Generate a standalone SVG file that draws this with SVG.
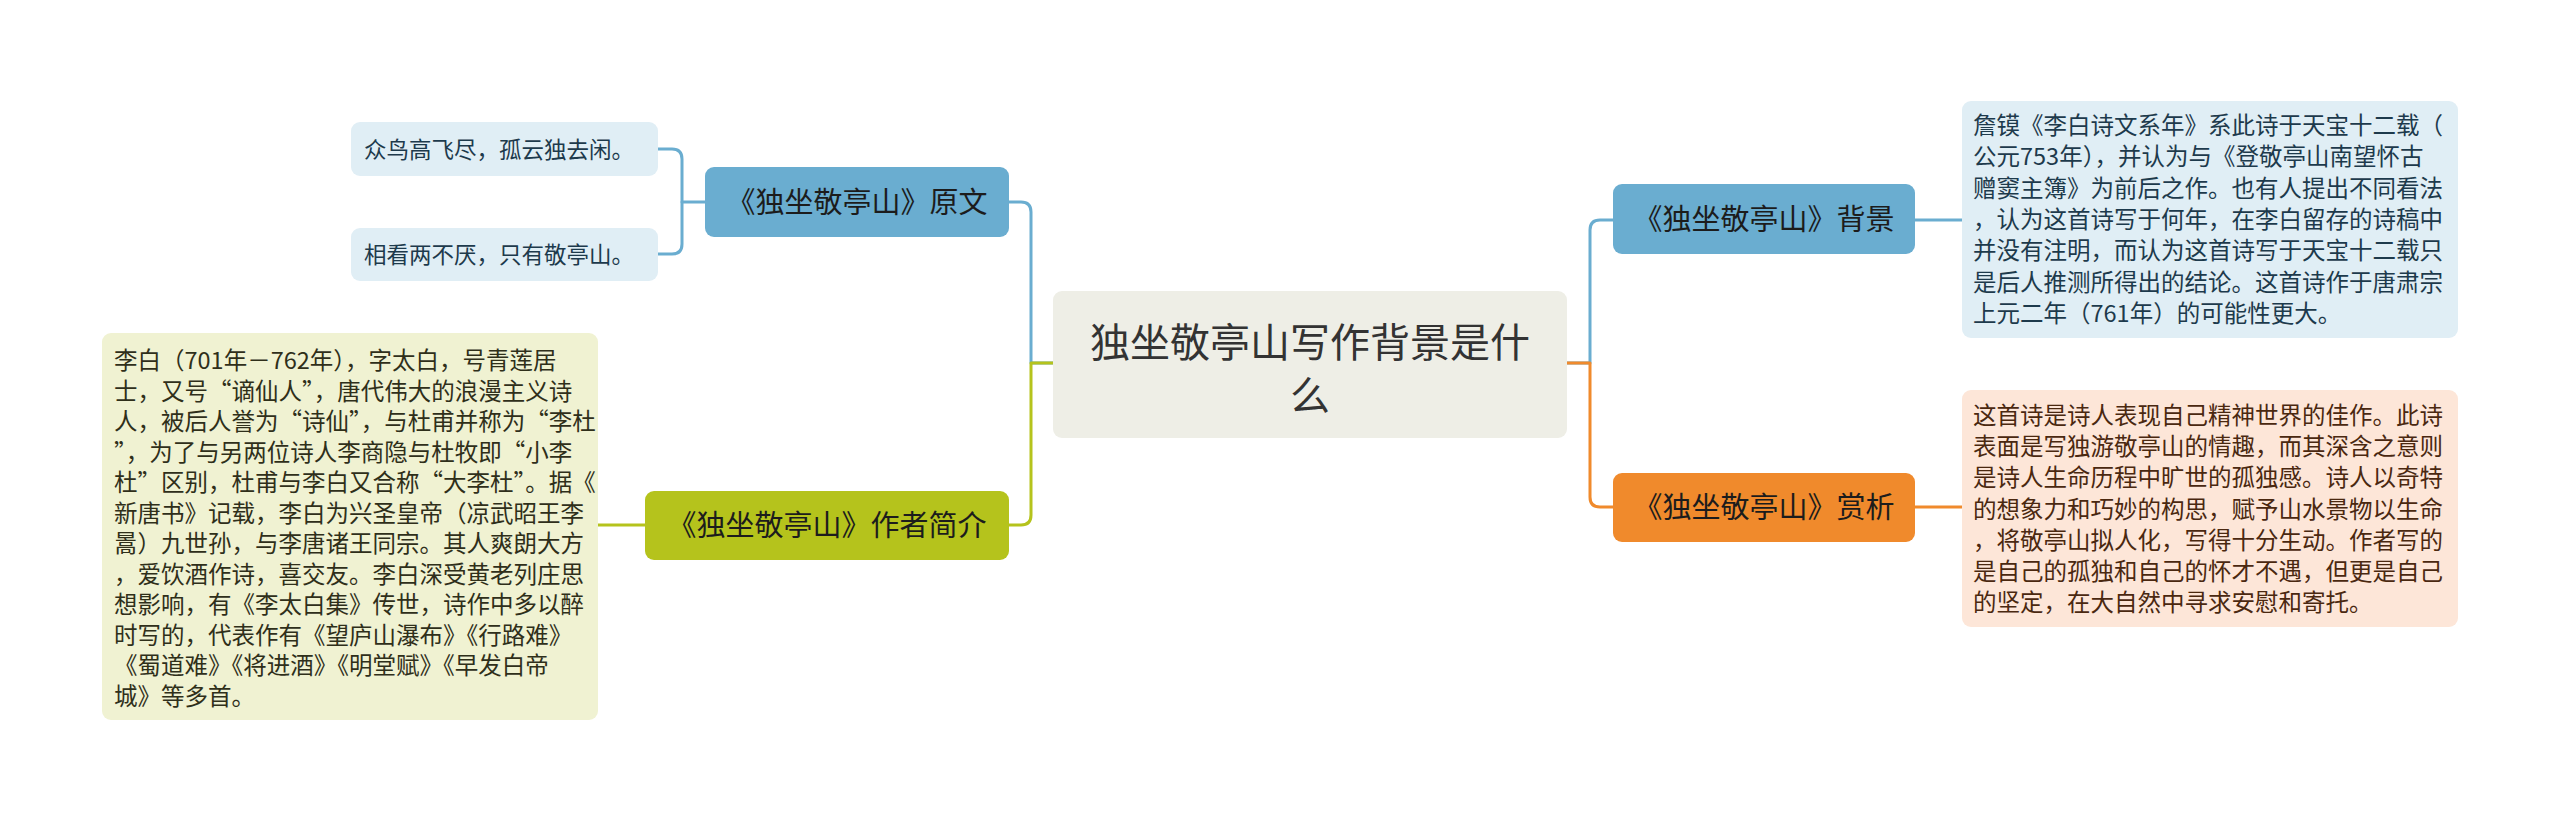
<svg xmlns="http://www.w3.org/2000/svg" width="2560" height="823" viewBox="0 0 2560 823">
<style>
text{font-family:"Noto Sans CJK SC","Noto Sans",sans-serif;}
.c{fill:none;stroke-width:3;stroke-linecap:round;stroke-linejoin:round;}
.cb{stroke:#6aadd0;}
.cg{stroke:#b5c31c;}
.co{stroke:#f08a2c;}
.t-node{font-size:29px;fill:#1c1c1c;text-anchor:middle;}
.t-center{font-size:40px;fill:#333333;text-anchor:middle;}
.t-body{font-size:23.5px;}
.t-leaf{font-size:22.5px;fill:#1d3a4c;}
</style>
<rect width="2560" height="823" fill="#ffffff"/>
<g id="connectors">
<path class="c cb" d="M1053,363 H1031 V212 Q1031,202 1021,202 H1009"/>
<path class="c cg" d="M1053,363 H1031 V515 Q1031,525 1021,525 H1009"/>
<path class="c cb" d="M1567,363 H1590 V230 Q1590,220 1600,220 H1613"/>
<path class="c co" d="M1567,363 H1590 V497 Q1590,507 1600,507 H1613"/>
<path class="c cb" d="M705,202 H682"/>
<path class="c cb" d="M658,149 H672 Q682,149 682,159 V244 Q682,254 672,254 H658"/>
<path class="c cg" d="M645,525 H598"/>
<path class="c cb" d="M1915,220 H1962"/>
<path class="c co" d="M1915,507 H1962"/>
</g>
<g id="center">
<rect x="1053" y="291" width="514" height="147" rx="9" fill="#eeeee6"/>
<text class="t-center" x="1310" y="357">独坐敬亭山写作背景是什</text>
<text class="t-center" x="1310" y="410">么</text>
</g>
<g id="yuanwen">
<rect x="705" y="167" width="304" height="70" rx="9" fill="#6aadd0"/>
<text class="t-node" x="857" y="213">《独坐敬亭山》原文</text>
</g>
<g id="leaf1">
<rect x="351" y="122" width="307" height="54" rx="9" fill="#e0eef5"/>
<text class="t-leaf" x="364" y="158">众鸟高飞尽，孤云独去闲。</text>
</g>
<g id="leaf2">
<rect x="351" y="228" width="307" height="53" rx="9" fill="#e0eef5"/>
<text class="t-leaf" x="364" y="263">相看两不厌，只有敬亭山。</text>
</g>
<g id="zuozhe">
<rect x="645" y="491" width="364" height="69" rx="9" fill="#b5c31c"/>
<text class="t-node" x="827" y="536">《独坐敬亭山》作者简介</text>
</g>
<g id="author-text">
<rect x="102" y="333" width="496" height="387" rx="9" fill="#f0f2d2"/>
<text class="t-body" fill="#2f2f1a">
<tspan x="114" y="369">李白（701年－762年），字太白，号青莲居</tspan>
<tspan x="114" y="399.5">士，又号“谪仙人”，唐代伟大的浪漫主义诗</tspan>
<tspan x="114" y="430">人，被后人誉为“诗仙”，与杜甫并称为“李杜</tspan>
<tspan x="114" y="460.5">”，为了与另两位诗人李商隐与杜牧即“小李</tspan>
<tspan x="114" y="491">杜”区别，杜甫与李白又合称“大李杜”。据《</tspan>
<tspan x="114" y="521.5">新唐书》记载，李白为兴圣皇帝（凉武昭王李</tspan>
<tspan x="114" y="552">暠）九世孙，与李唐诸王同宗。其人爽朗大方</tspan>
<tspan x="114" y="582.5">，爱饮酒作诗，喜交友。李白深受黄老列庄思</tspan>
<tspan x="114" y="613">想影响，有《李太白集》传世，诗作中多以醉</tspan>
<tspan x="114" y="643.5">时写的，代表作有《望庐山瀑布》《行路难》</tspan>
<tspan x="114" y="674">《蜀道难》《将进酒》《明堂赋》《早发白帝</tspan>
<tspan x="114" y="704.5">城》等多首。</tspan>
</text>
</g>
<g id="beijing">
<rect x="1613" y="184" width="302" height="70" rx="9" fill="#6aadd0"/>
<text class="t-node" x="1764" y="230">《独坐敬亭山》背景</text>
</g>
<g id="beijing-text">
<rect x="1962" y="101" width="496" height="237" rx="9" fill="#e0eef5"/>
<text class="t-body" fill="#1d3a4c">
<tspan x="1973" y="134">詹镆《李白诗文系年》系此诗于天宝十二载（</tspan>
<tspan x="1973" y="165.3">公元753年），并认为与《登敬亭山南望怀古</tspan>
<tspan x="1973" y="196.6">赠窦主簿》为前后之作。也有人提出不同看法</tspan>
<tspan x="1973" y="227.9">，认为这首诗写于何年，在李白留存的诗稿中</tspan>
<tspan x="1973" y="259.2">并没有注明，而认为这首诗写于天宝十二载只</tspan>
<tspan x="1973" y="290.5">是后人推测所得出的结论。这首诗作于唐肃宗</tspan>
<tspan x="1973" y="321.8">上元二年（761年）的可能性更大。</tspan>
</text>
</g>
<g id="shangxi">
<rect x="1613" y="473" width="302" height="69" rx="9" fill="#f08a2c"/>
<text class="t-node" x="1764" y="518">《独坐敬亭山》赏析</text>
</g>
<g id="shangxi-text">
<rect x="1962" y="390" width="496" height="237" rx="9" fill="#fde6d8"/>
<text class="t-body" fill="#4a2810">
<tspan x="1973" y="424">这首诗是诗人表现自己精神世界的佳作。此诗</tspan>
<tspan x="1973" y="455.2">表面是写独游敬亭山的情趣，而其深含之意则</tspan>
<tspan x="1973" y="486.4">是诗人生命历程中旷世的孤独感。诗人以奇特</tspan>
<tspan x="1973" y="517.6">的想象力和巧妙的构思，赋予山水景物以生命</tspan>
<tspan x="1973" y="548.8">，将敬亭山拟人化，写得十分生动。作者写的</tspan>
<tspan x="1973" y="580">是自己的孤独和自己的怀才不遇，但更是自己</tspan>
<tspan x="1973" y="611.2">的坚定，在大自然中寻求安慰和寄托。</tspan>
</text>
</g>
</svg>
